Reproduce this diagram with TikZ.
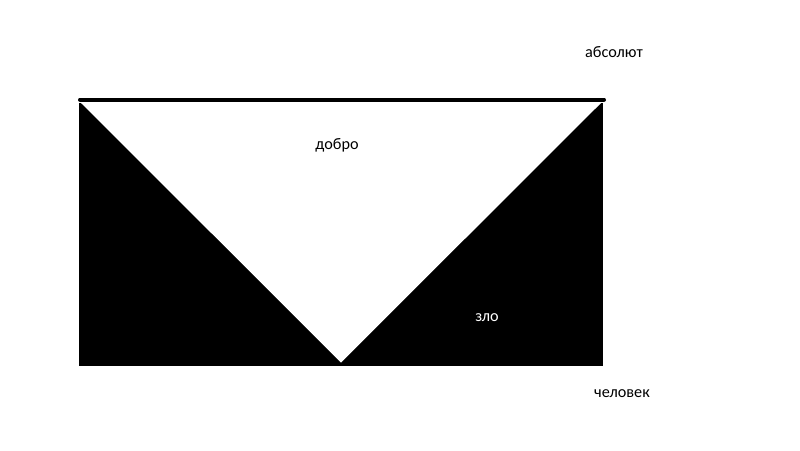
\documentclass[tikz,border=0pt]{standalone}
\usepackage{fontspec}
\setmainfont{Carlito}
\begin{document}
\begin{tikzpicture}[x=1pt,y=-1pt,
  lbl/.style={inner sep=0pt,anchor=base,font=\fontsize{16.2}{19}\selectfont}]
\useasboundingbox[fill=white] (0,0) rectangle (800,450);
\fill[black] (79,103) rectangle (602.5,365.5);
\fill[white] (81,103) -- (601,103) -- (341,362.5) -- cycle;
\coordinate (L) at (80,99.5);
\coordinate (R) at (604,99.5);
\draw[line width=4pt,line cap=round] (L) -- (R);
\node[lbl] (abs) at (614,57) {абсолют};
\node[lbl] (dobro) at (337,149.5) {добро};
\node[lbl,text=white] (zlo) at (487,321.5) {зло};
\node[lbl] (chel) at (622,397.5) {человек};
\end{tikzpicture}
\end{document}
